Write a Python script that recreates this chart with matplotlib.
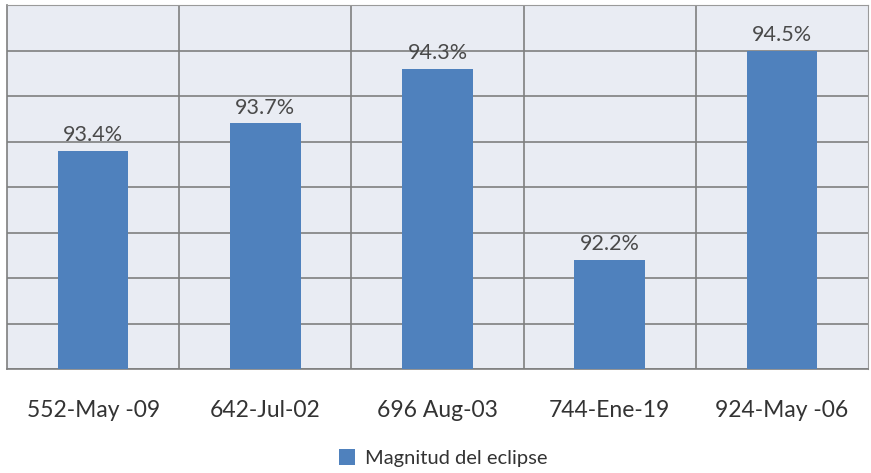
import matplotlib.pyplot as plt
import numpy as np

fechas = ["552-May -09", "642-Jul-02", "696 Aug-03", "744-Ene-19", "924-May -06"]
magnitud = [93.4, 93.7, 94.3, 92.2, 94.5]
etiquetas = ["93.4%", "93.7%", "94.3%", "92.2%", "94.5%"]

plt.rcParams['font.family'] = ['Lato', 'DejaVu Sans']

fig = plt.figure(figsize=(8.71, 4.73), dpi=100)
ax = fig.add_axes([7 / 871, 1 - 369 / 473, 861 / 871, 364 / 473])
ax.set_facecolor('#E9ECF3')

x = np.arange(len(fechas))
bars = ax.bar(x, magnitud, width=0.41, color='#4F81BD', zorder=3,
              label='Magnitud del eclipse')
for b, t in zip(bars, etiquetas):
    ax.text(b.get_x() + b.get_width() / 2, b.get_height() + 0.06, t,
            ha='center', va='bottom', fontsize=15.5, color='#4a4a4a', zorder=4)

ax.set_ylim(91, 95)
ax.set_xlim(-0.5, len(fechas) - 0.5)
ax.set_yticks(np.arange(91, 95.01, 0.5))
ax.set_yticklabels([])
ax.tick_params(axis='y', length=0)
ax.set_xticks(x)
ax.set_xticklabels(fechas, fontsize=16.5, color='#333333')
ax.tick_params(axis='x', length=0, pad=22)
ax.set_xticks(np.arange(0.5, len(fechas) - 0.5, 1), minor=True)
ax.tick_params(axis='x', which='minor', length=0)

ax.grid(axis='y', color='#7f7f7f', linewidth=1.2, zorder=1)
ax.grid(axis='x', which='minor', color='#7f7f7f', linewidth=1.2, zorder=1)
for s in ['top', 'right']:
    ax.spines[s].set_color('#9a9a9a')
for s in ['left', 'bottom']:
    ax.spines[s].set_color('#7f7f7f')
    ax.spines[s].set_linewidth(1.2)

fig.legend(loc='center', bbox_to_anchor=(443 / 871, 1 - 458 / 473), frameon=False,
           fontsize=14.5, handlelength=0.8, handleheight=0.8, handletextpad=0.5,
           labelcolor='#333333')

fig.savefig('out.png', dpi=100)
